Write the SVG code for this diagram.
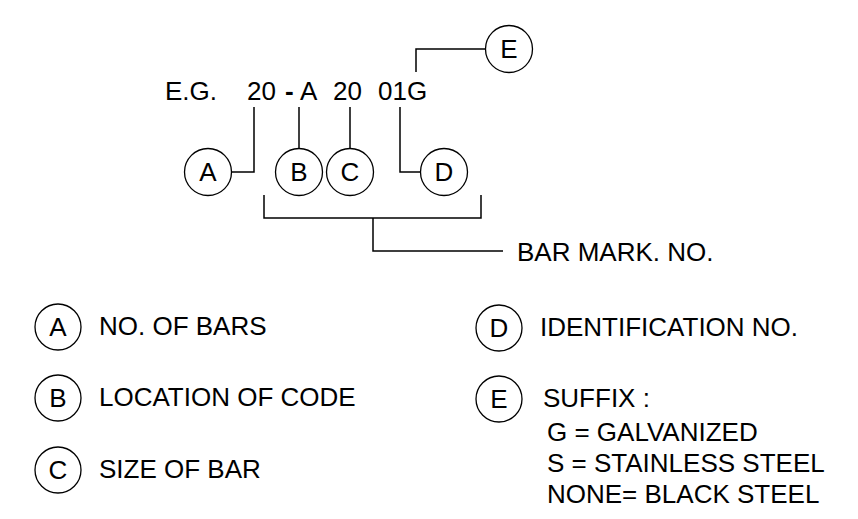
<svg xmlns="http://www.w3.org/2000/svg" width="858" height="519" viewBox="0 0 858 519">
<style>
text{font-family:"Liberation Sans",Arial,sans-serif;font-size:26px;fill:#000}
.c{fill:#fff;stroke:#000;stroke-width:1.3}
.l{fill:none;stroke:#000;stroke-width:1.5}
.m{text-anchor:middle}
.b{font-weight:bold}
</style>
<rect width="858" height="519" fill="#fff"/>
<g id="example">
<text x="165" y="100">E.G.</text>
<text x="247" y="100">20</text>
<text class="b" x="285" y="100">-</text>
<text x="300" y="100">A</text>
<text x="333" y="100">20</text>
<text x="378" y="100">01G</text>
</g>
<g id="connectors">
<path class="l" d="M231,172 H254 V107"/>
<path class="l" d="M299,107 V148"/>
<path class="l" d="M350,107 V148"/>
<path class="l" d="M400,107 V172 H420"/>
<path class="l" d="M416,72 V49 H485"/>
<path class="l" d="M264,195 V218 H481 V195"/>
<path class="l" d="M373,218 V251 H503"/>
</g>
<g id="nodeA"><circle class="c" cx="208" cy="172" r="23.5"/><text class="m" x="208" y="181">A</text></g>
<g id="nodeB"><circle class="c" cx="299" cy="172" r="23.5"/><text class="m" x="299" y="181">B</text></g>
<g id="nodeC"><circle class="c" cx="350" cy="172" r="23.5"/><text class="m" x="350" y="181">C</text></g>
<g id="nodeD"><circle class="c" cx="444" cy="172" r="23.5"/><text class="m" x="444" y="181">D</text></g>
<g id="nodeE"><circle class="c" cx="509" cy="49" r="23.5"/><text class="m" x="509" y="58">E</text></g>
<g id="barmark"><text x="517" y="261">BAR MARK. NO.</text></g>
<g id="legendA"><circle class="c" cx="58" cy="327" r="23"/><text class="m" x="58" y="336">A</text><text x="99" y="335">NO. OF BARS</text></g>
<g id="legendB"><circle class="c" cx="58" cy="398" r="23"/><text class="m" x="58" y="407">B</text><text x="99" y="406">LOCATION OF CODE</text></g>
<g id="legendC"><circle class="c" cx="58" cy="470" r="23"/><text class="m" x="58" y="479">C</text><text x="99" y="478">SIZE OF BAR</text></g>
<g id="legendD"><circle class="c" cx="499" cy="328" r="23"/><text class="m" x="499" y="337">D</text><text x="540" y="336">IDENTIFICATION NO.</text></g>
<g id="legendE"><circle class="c" cx="499" cy="399" r="23"/><text class="m" x="499" y="408">E</text><text x="543" y="407">SUFFIX :</text>
<text x="547" y="441">G = GALVANIZED</text>
<text x="547" y="472">S = STAINLESS STEEL</text>
<text x="547" y="503">NONE= BLACK STEEL</text></g>
</svg>
